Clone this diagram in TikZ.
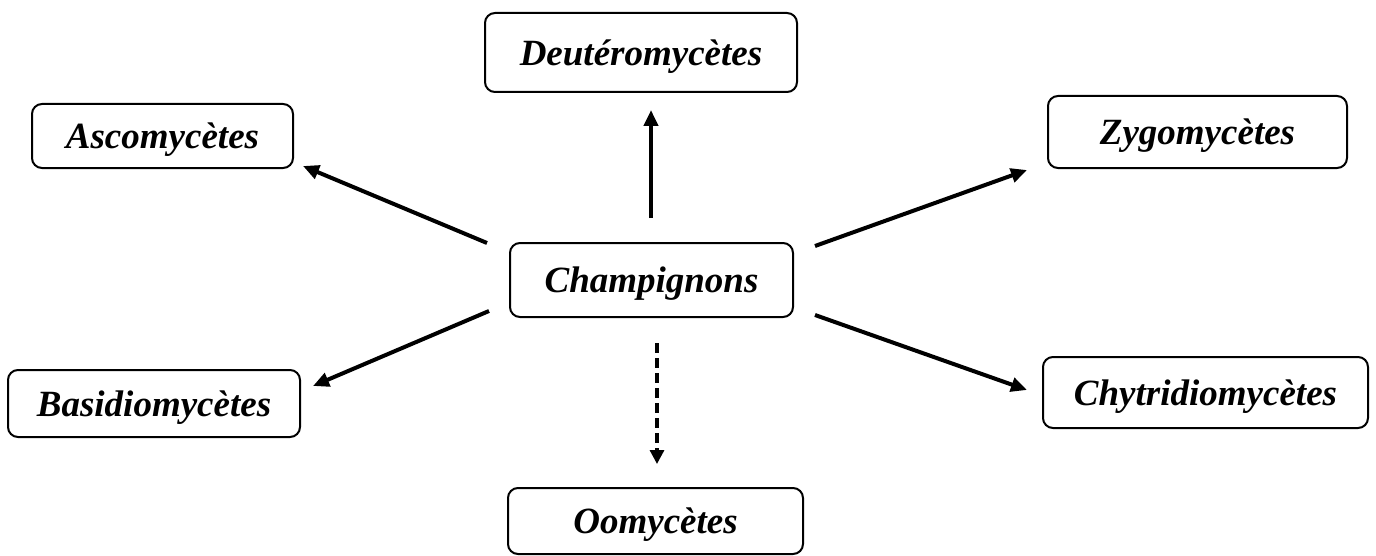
\documentclass[tikz,border=0pt]{standalone}
\usepackage{fontspec}
\setmainfont{Liberation Serif}
\usetikzlibrary{arrows.meta}
\begin{document}
\begin{tikzpicture}[x=0.5pt,y=-0.5pt,
  box/.style={draw,line width=1pt,rounded corners=5pt,inner sep=0pt,text height=17.2pt,text depth=4.6pt,font=\fontsize{18.5}{20}\selectfont\bfseries\itshape},
  arr/.style={line width=2pt,-{Triangle[length=8pt,width=7pt]}},
  darr/.style={line width=1.6pt,dash pattern=on 5pt off 2.5pt,-{Triangle[length=7pt,width=7pt]}}]
\useasboundingbox (0,0) rectangle (1376,556);
\node[box,minimum width=261*0.5pt,minimum height=64*0.5pt] (asco) at (162.5,136) {Ascomycètes};
\node[box,minimum width=312*0.5pt,minimum height=79*0.5pt] (deut) at (641,52.5) {Deutéromycètes};
\node[box,minimum width=299*0.5pt,minimum height=72*0.5pt] (zygo) at (1197.5,132) {Zygomycètes};
\node[box,minimum width=283*0.5pt,minimum height=74*0.5pt] (champ) at (651.5,280) {Champignons};
\node[box,minimum width=292*0.5pt,minimum height=67*0.5pt] (basid) at (154,403.5) {Basidiomycètes};
\node[box,minimum width=325*0.5pt,minimum height=71*0.5pt] (chytr) at (1205.5,392.5) {Chytridiomycètes};
\node[box,minimum width=295*0.5pt,minimum height=66*0.5pt] (oomy) at (655.5,521) {Oomycètes};
\coordinate (a1) at (487,243); \coordinate (a2) at (303,166);
\coordinate (d1) at (651,218); \coordinate (d2) at (651,110);
\coordinate (z1) at (815,246); \coordinate (z2) at (1027,170);
\coordinate (b1) at (489,311); \coordinate (b2) at (313,386);
\coordinate (c1) at (815,315); \coordinate (c2) at (1027,390);
\coordinate (o1) at (657,343); \coordinate (o2) at (657,464);
\draw[arr] (a1) -- (a2);
\draw[arr] (d1) -- (d2);
\draw[arr] (z1) -- (z2);
\draw[arr] (b1) -- (b2);
\draw[arr] (c1) -- (c2);
\draw[darr] (o1) -- (o2);
\end{tikzpicture}
\end{document}
